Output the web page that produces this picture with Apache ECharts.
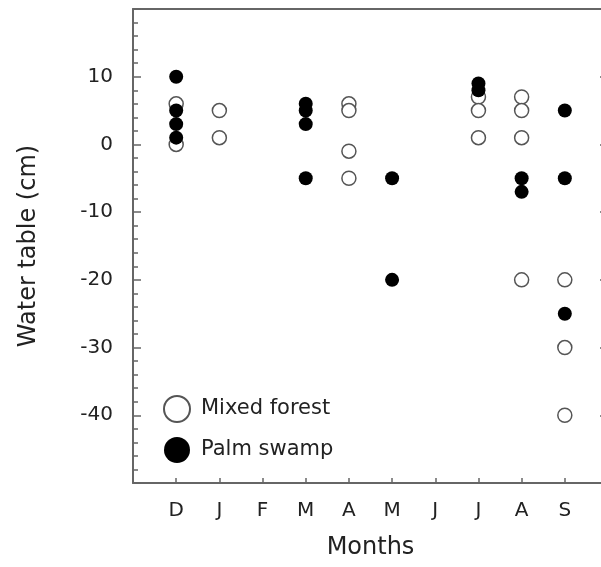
<!DOCTYPE html>
<html>
<head>
<meta charset="utf-8">
<script src="https://cdn.jsdelivr.net/npm/echarts@6/dist/echarts.min.js"></script>
<style>
  html, body { margin: 0; padding: 0; background: #fff; }
  #chart { width: 601px; height: 567px; }
</style>
</head>
<body>
<div id="chart"></div>
<script>
// month labels, index 0..9
var months = ['D', 'J', 'F', 'M', 'A', 'M', 'J', 'J', 'A', 'S'];

// Mixed forest (open circles)
var mixedMonth = [0, 0, 1, 1, 4, 4, 4, 4, 7, 7, 7, 8, 8, 8, 8, 9, 9, 9];
var mixedValue = [6, 0, 5, 1, 6, 5, -1, -5, 7, 5, 1, 7, 5, 1, -20, -20, -30, -40];

// Palm swamp (filled circles)
var palmMonth = [0, 0, 0, 0, 3, 3, 3, 3, 5, 5, 7, 7, 8, 8, 9, 9, 9];
var palmValue = [10, 5, 3, 1, 6, 5, 3, -5, -5, -20, 9, 8, -5, -7, 5, -5, -25];

function pairs(xs, ys) {
  var out = [];
  for (var i = 0; i < xs.length; i++) out.push([xs[i], ys[i]]);
  return out;
}

var font = 'DejaVu Sans';
var axisGrey = '#666';

var myChart = echarts.init(document.getElementById('chart'));
var option = {
  animation: false,
  textStyle: { fontFamily: font },
  // right edge sits just past the canvas, as in the cropped original
  grid: { left: 133, right: -7, top: 9, bottom: 84, outerBoundsMode: 'none', containLabel: false },
  legend: {
    orient: 'vertical',
    left: 158,
    top: 390,
    itemWidth: 26,
    itemHeight: 26,
    itemGap: 14,
    icon: 'circle',
    textStyle: { fontSize: 21, color: '#222', fontFamily: font, padding: [0, 0, 0, 6] },
    data: ['Mixed forest', 'Palm swamp']
  },
  xAxis: [{
    type: 'value',
    min: -1,
    max: 10,
    interval: 1,
    name: 'Months',
    nameLocation: 'middle',
    nameGap: 53,
    nameTextStyle: { fontSize: 24, color: '#222', fontFamily: font },
    axisLine: { onZero: false, lineStyle: { color: axisGrey, width: 2 } },
    axisTick: { inside: true, length: 5, lineStyle: { color: axisGrey, width: 1.5 } },
    axisLabel: {
      fontSize: 20, color: '#222', margin: 18,
      formatter: function (v) { return months[v] || ''; }
    },
    splitLine: { show: false }
  }, {
    type: 'value',
    position: 'top',
    min: -1,
    max: 10,
    axisLine: { show: true, onZero: false, lineStyle: { color: axisGrey, width: 2 } },
    axisTick: { show: false },
    axisLabel: { show: false },
    splitLine: { show: false }
  }],
  yAxis: [{
    type: 'value',
    min: -50,
    max: 20,
    interval: 10,
    name: 'Water table (cm)',
    nameLocation: 'middle',
    nameGap: 92,
    nameTextStyle: { fontSize: 24, color: '#222', fontFamily: font },
    axisLine: { show: true, onZero: false, lineStyle: { color: axisGrey, width: 2 } },
    axisTick: { inside: true, length: 8, lineStyle: { color: axisGrey, width: 1.5 } },
    minorTick: { show: true, splitNumber: 5, length: 5, lineStyle: { color: axisGrey, width: 1.5 } },
    axisLabel: {
      fontSize: 20, color: '#222', margin: 20,
      formatter: function (v) { return (v === -50 || v === 20) ? '' : String(v); }
    },
    splitLine: { show: false }
  }, {
    type: 'value',
    position: 'right',
    min: -50,
    max: 20,
    interval: 10,
    axisLine: { show: true, onZero: false, lineStyle: { color: axisGrey, width: 2 } },
    axisTick: { inside: true, length: 8, lineStyle: { color: axisGrey, width: 1.5 } },
    axisLabel: { show: false },
    splitLine: { show: false }
  }],
  series: [{
    name: 'Mixed forest',
    type: 'scatter',
    symbol: 'circle',
    symbolSize: 14,
    itemStyle: { color: '#fff', borderColor: '#555', borderWidth: 1.5, opacity: 1 },
    data: pairs(mixedMonth, mixedValue)
  }, {
    name: 'Palm swamp',
    type: 'scatter',
    symbol: 'circle',
    symbolSize: 14,
    itemStyle: { color: '#000', opacity: 1 },
    data: pairs(palmMonth, palmValue)
  }]
};
myChart.setOption(option);
</script>
</body>
</html>
